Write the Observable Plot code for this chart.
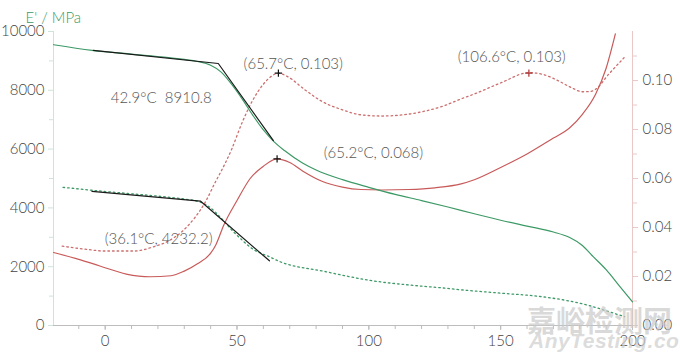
<!DOCTYPE html>
<html><head><meta charset="utf-8">
<script src="https://cdn.jsdelivr.net/npm/d3@7"></script>
<script src="https://cdn.jsdelivr.net/npm/@observablehq/plot@0.6"></script>
<style>
body{margin:0;background:#fff;}
#wrap{position:relative;width:680px;height:358px;overflow:hidden;}
.wm1{position:absolute;left:527px;top:298px;font:700 29px "Noto Sans CJK SC";color:rgba(200,200,200,0.7);letter-spacing:0px;}
.wm2{position:absolute;left:529px;top:329px;font:italic 700 21px "Liberation Sans";color:rgba(205,205,205,0.7);letter-spacing:0.5px;}
</style></head><body><div id="wrap"></div>
<script>
// Sample 1 storage modulus E' (MPa), solid green
const temp1 = [-19.6,-5,10,20,30,35,40,44,48,52,56,60,63.6,68,75,80,90,100,110,120,130,140,150,160,170,176,181,185,190,195,200];
const mod1  = [9550,9360,9230,9150,9050,8980,8850,8620,8200,7700,7150,6650,6290,5950,5520,5290,4960,4700,4460,4250,4030,3800,3580,3380,3180,3000,2720,2350,1900,1350,800];
// Sample 2 storage modulus E' (MPa), dotted green
const temp2 = [-16,-5,10,20,30,36,40,44,48,52,56,60,62,66,70,76,82,90,100,115,127.7,135,150,165,175,183.5,190,197];
const mod2  = [4700,4600,4480,4400,4300,4200,4000,3650,3250,2900,2600,2420,2350,2180,2060,1950,1860,1710,1540,1380,1280,1214,1100,986,850,680,500,300];
// Sample 1 tan delta, solid red
const tanT1 = [-19.6,-10,-2,8,17,25,30,35,40,42,45,50,55,60,65.2,70,75,82,90,97,105,115,125,135,140,150,160,170,176,181,186,190,193.5];
const tan1  = [0.0298,0.027,0.0243,0.021,0.0199,0.0203,0.0222,0.0252,0.0295,0.033,0.041,0.051,0.060,0.065,0.068,0.0665,0.063,0.059,0.0565,0.0555,0.0553,0.0555,0.0562,0.0578,0.0595,0.0645,0.070,0.0765,0.0805,0.0862,0.0944,0.105,0.119];
// Sample 2 tan delta, dotted red
const tanT2 = [-16.3,-8,0,11,18,24,29.4,34,38.2,42,44,48,52,56,60,63,65.7,69,76,82,90,97,105,113,120,128,135,140,150,160.7,166,172,177,181,184,186,191,196.8];
const tan2  = [0.0324,0.0312,0.0304,0.0304,0.032,0.0345,0.0386,0.044,0.0508,0.059,0.063,0.072,0.083,0.092,0.0985,0.1017,0.103,0.1017,0.096,0.0916,0.088,0.086,0.0855,0.086,0.0872,0.0895,0.0925,0.0945,0.099,0.1032,0.1025,0.0998,0.097,0.0954,0.0955,0.0964,0.1026,0.1093];
// Onset tangent construction lines
const tangT1 = [-4.5,42.9,63.8];
const tangE1 = [9360,8910.8,6290];
const tangT2 = [-5,36.1,62.3];
const tangE2 = [4560,4232.2,2200];
// Peak markers
const peakT   = [65.7,65.2,160.7];
const peakTan = [0.103,0.068,0.103];
// Annotations
const noteText = ["42.9°C  8910.8","(65.7°C, 0.103)","(106.6°C, 0.103)","(65.2°C, 0.068)","(36.1°C, 4232.2)"];
const noteT    = [2.1,52.5,133.7,82.9,-0.2];
const noteE    = [7738,8878,9133,5867,2925];
// Axis ticks
const xMajor = [0,50,100,150,200];
const xMinor = d3.range(-10,200,10);
const yMajor = [0,2000,4000,6000,8000,10000];
const yMinor = [1000,3000,5000,7000,9000];
const tanMajor = [0,0.02,0.04,0.06,0.08,0.10];
const tanMinor = [0.01,0.03,0.05,0.07,0.09,0.11];

const K = 10000/0.12; // right axis (tan δ) mapped onto left axis range
const s1 = temp1.map((t,i)=>({t, e:mod1[i]}));
const s2 = temp2.map((t,i)=>({t, e:mod2[i]}));
const r1 = tanT1.map((t,i)=>({t, e:tan1[i]*K}));
const r2 = tanT2.map((t,i)=>({t, e:tan2[i]*K}));
const g1 = tangT1.map((t,i)=>({t, e:tangE1[i]}));
const g2 = tangT2.map((t,i)=>({t, e:tangE2[i]}));
const peaks = peakT.map((t,i)=>({t, e:peakTan[i]*K, c: i===2 ? "#a33" : "#111"}));
const notes = noteText.map((s,i)=>({s, t:noteT[i], e:noteE[i]}));

const green = "#3d9966", red = "#c85a5a", redDot = "#cc6e6e";
const xDom = [-19.6,200];
const cv = "monotone-x";

const chart = Plot.plot({
  width:680, height:358,
  marginLeft:53, marginRight:48, marginTop:31, marginBottom:33,
  x:{domain:xDom}, y:{domain:[0,10000]},
  style:{fontFamily:"Lato", fontSize:"15px", fontWeight:300, color:"#444", background:"white", overflow:"visible"},
  marks:[
    Plot.ruleX([xDom[0]], {stroke:"#cfe4d8"}),
    Plot.ruleX([200], {stroke:"#ebc8c8"}),
    Plot.ruleY([0], {stroke:"#bdbdbd", x1:xDom[0], x2:200}),
    Plot.axisX({ticks:xMajor, tickSize:5, tickPadding:5, tickFormat:d=>String(d), stroke:"#bbb", fill:"#444", label:null}),
    Plot.axisX({ticks:xMinor, tickSize:4, tickFormat:()=>"", stroke:"#bbb", label:null}),
    Plot.axisY({ticks:yMajor, tickSize:5, tickPadding:4, tickFormat:d=>String(d), stroke:"#cfe4d8", fill:"#444", label:null}),
    Plot.axisY({ticks:yMinor, tickSize:4, tickFormat:()=>"", stroke:"#cfe4d8", label:null}),
    Plot.axisY({anchor:"right", ticks:tanMajor.map(v=>v*K), tickFormat:d=>(d/K).toFixed(2), tickSize:5, tickPadding:5, stroke:"#ebc8c8", fill:"#444", label:null}),
    Plot.axisY({anchor:"right", ticks:tanMinor.map(v=>v*K), tickFormat:()=>"", tickSize:4, stroke:"#ebc8c8", label:null}),
    Plot.line(s2, {x:"t", y:"e", stroke:green, strokeWidth:1.3, strokeDasharray:"1.6,3", curve:cv}),
    Plot.line(r2, {x:"t", y:"e", stroke:redDot, strokeWidth:1.3, strokeDasharray:"1.6,3", curve:cv}),
    Plot.line(r1, {x:"t", y:"e", stroke:red, strokeWidth:1.2, curve:cv}),
    Plot.line(s1, {x:"t", y:"e", stroke:green, strokeWidth:1.2, curve:cv}),
    Plot.line(g1, {x:"t", y:"e", stroke:"#1a1a1a", strokeWidth:1.2}),
    Plot.line(g2, {x:"t", y:"e", stroke:"#1a1a1a", strokeWidth:1.2}),
    Plot.dot(peaks, {x:"t", y:"e", symbol:"plus", r:2.5, stroke:"c", strokeWidth:1.2}),
    Plot.text(notes, {x:"t", y:"e", text:"s", textAnchor:"start", fill:"#555", fontSize:15}),
    Plot.text(["E' / MPa"], {frameAnchor:"top-left", dx:-28, dy:-19, textAnchor:"start", fill:green, fontSize:15})
  ]
});
const wrap = document.getElementById("wrap");
wrap.appendChild(chart);
const w1 = document.createElement("div"); w1.className="wm1"; w1.textContent="嘉峪检测网"; wrap.appendChild(w1);
const w2 = document.createElement("div"); w2.className="wm2"; w2.textContent="AnyTesting.com"; wrap.appendChild(w2);
</script>
</body></html>
